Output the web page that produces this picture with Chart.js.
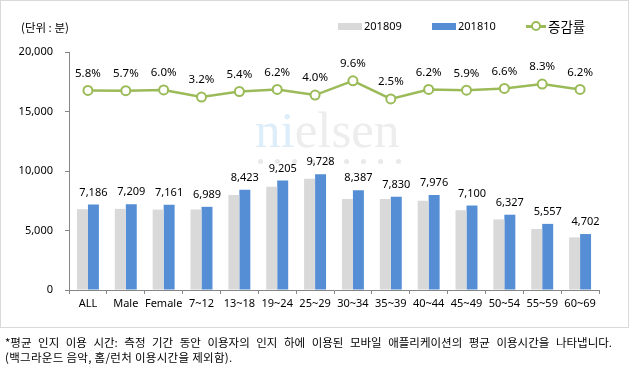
<!DOCTYPE html>
<html>
<head>
<meta charset="utf-8">
<script src="https://cdn.jsdelivr.net/npm/chart.js@4"></script>
<style>
  html, body { margin:0; padding:0; background:#fff; }
  #wrap { position:relative; width:630px; height:370px; overflow:hidden; background:#fff; font-family:"Noto Sans","Noto Sans CJK KR",sans-serif; color:#000; }
  #frame { position:absolute; left:0; top:0; width:629px; height:328px; box-sizing:border-box; border:1px solid #d9d9d9; }
  #wm { position:absolute; left:255px; top:104px; font-family:"Liberation Serif",serif; font-size:51px; line-height:52px; color:#ededed; white-space:nowrap; }
  #wm .b { color:#ddedf9; }
  .dot { position:absolute; width:5px; height:5px; border-radius:50%; background:#e9e9e9; top:159px; }
  canvas { position:absolute; left:0; top:0; }
  .abs { position:absolute; white-space:nowrap; }
  .unit { left:21px; top:18px; font-family:"Noto Sans CJK KR",sans-serif; font-size:11.5px; line-height:18px; }
  .sw { position:absolute; height:7px; width:24px; top:23px; }
  .lg { font-size:11px; line-height:16px; top:18px; }
  .foot { left:5px; font-family:"Noto Sans CJK KR",sans-serif; font-size:11.5px; letter-spacing:0.3px; line-height:15px; }
</style>
</head>
<body>
<div id="wrap">
  <div id="wm"><span class="b">ni</span>elsen</div>
  <div id="dots"></div>
  <canvas id="c" width="630" height="328"></canvas>
  <div id="frame"></div>
  <div class="abs unit">(단위 : 분)</div>
  <div class="sw" style="left:338px;background:#d9d9d9"></div>
  <div class="abs lg" style="left:364px">201809</div>
  <div class="sw" style="left:432px;background:#558ed5"></div>
  <div class="abs lg" style="left:458px">201810</div>
  <div class="abs" style="left:526px;top:25px;width:20px;height:2.5px;background:#9bbb59"></div>
  <div class="abs" style="left:531px;top:21px;width:6px;height:6px;border:2px solid #9bbb59;border-radius:50%;background:#fff"></div>
  <div class="abs" style="left:548px;top:16px;font-family:'Noto Sans CJK KR',sans-serif;font-size:13.5px;line-height:20px">증감률</div>
  <div class="abs foot" style="top:335px;width:607px;text-align:justify;text-align-last:justify;white-space:normal;letter-spacing:0">*평균 인지 이용 시간: 측정 기간 동안 이용자의 인지 하에 이용된 모바일 애플리케이션의 평균 이용시간을 나타냅니다.</div>
  <div class="abs foot" style="top:350px">(백그라운드 음악, 홈/런처 이용시간을 제외함).</div>
</div>
<script>
const categories = ['ALL','Male','Female','7~12','13~18','19~24','25~29','30~34','35~39','40~44','45~49','50~54','55~59','60~69'];
const sep2018 = [6790,6820,6755,6770,7990,8670,9355,7650,7640,7510,6705,5935,5130,4425];
const oct2018 = [7186,7209,7161,6989,8423,9205,9728,8387,7830,7976,7100,6327,5557,4702];
const changeRate = [5.8,5.7,6.0,3.2,5.4,6.2,4.0,9.6,2.5,6.2,5.9,6.6,8.3,6.2];
const yTicks = [0,5000,10000,15000,20000];
const seriesNames = ['201809','201810','증감률'];

// watermark dots
(function(){
  const d = document.getElementById('dots');
  for (let i=0;i<9;i++){
    const s=document.createElement('div'); s.className='dot';
    s.style.left=(258+i*17.2)+'px'; d.appendChild(s);
  }
})();

const axisColor = '#868686';
const tickFont = { family:'"Noto Sans", sans-serif', size:11 };

const labelPlugin = {
  id:'valueLabels',
  afterDatasetsDraw(chart){
    const ctx = chart.ctx;
    ctx.save();
    ctx.fillStyle = '#000';
    ctx.textAlign = 'center';
    ctx.textBaseline = 'middle';
    ctx.font = '11px "Noto Sans", sans-serif';
    chart.getDatasetMeta(1).data.forEach((el,i)=>{
      ctx.fillText(oct2018[i].toLocaleString('en-US'), el.x, el.y-12);
    });
    ctx.font = '11.5px "Noto Sans", sans-serif';
    chart.getDatasetMeta(2).data.forEach((el,i)=>{
      ctx.fillText(changeRate[i].toFixed(1)+'%', el.x, el.y-17);
    });
    ctx.restore();
  }
};

new Chart(document.getElementById('c'), {
  type:'bar',
  data:{
    labels: categories,
    datasets:[
      { label:seriesNames[0], data:sep2018, backgroundColor:'#d9d9d9', categoryPercentage:0.58, barPercentage:1, order:2, yAxisID:'y' },
      { label:seriesNames[1], data:oct2018, backgroundColor:'#558ed5', categoryPercentage:0.58, barPercentage:1, order:2, yAxisID:'y' },
      { type:'line', label:seriesNames[2], data:changeRate, borderColor:'#9bbb59', borderWidth:2.5,
        pointRadius:4.5, pointHoverRadius:4.5, pointBorderWidth:2, pointBackgroundColor:'#fff', pointBorderColor:'#9bbb59',
        tension:0, order:0, yAxisID:'y1' }
    ]
  },
  options:{
    responsive:false,
    animation:false,
    devicePixelRatio:1,
    layout:{ padding:{ top:52, left:0, right:31, bottom:0 } },
    plugins:{ legend:{display:false}, tooltip:{enabled:false} },
    scales:{
      x:{
        offset:true,
        grid:{ offset:true, drawOnChartArea:false, tickLength:4, color:axisColor },
        border:{ color:axisColor },
        ticks:{ font:tickFont, color:'#000', padding:3, maxRotation:0, autoSkip:false },
        afterFit(s){ s.height = 38; }
      },
      y:{
        min:0, max:20000,
        afterBuildTicks(s){ s.ticks = yTicks.map(v=>({value:v})); },
        grid:{ drawOnChartArea:false, tickLength:4, color:axisColor },
        border:{ color:axisColor },
        ticks:{ font:tickFont, color:'#000', padding:12, callback:v=>v.toLocaleString('en-US') },
        afterFit(s){ s.width = 69; }
      },
      y1:{ display:false, min:-72.5, max:20.9 }
    }
  },
  plugins:[labelPlugin]
});
</script>
</body>
</html>
